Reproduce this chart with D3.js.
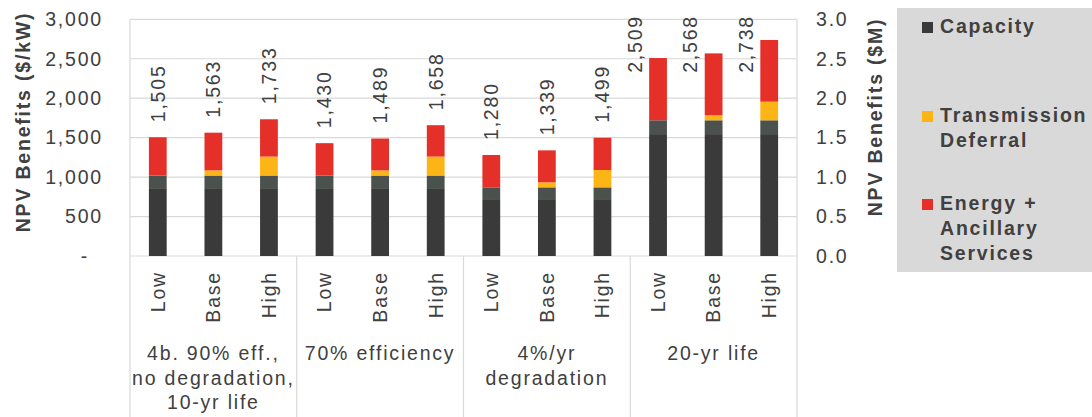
<!DOCTYPE html>
<html>
<head>
<meta charset="utf-8">
<script src="https://cdn.jsdelivr.net/npm/d3@7"></script>
<style>
  html, body { margin: 0; padding: 0; background: #ffffff; }
  svg { display: block; font-family: "Liberation Sans", Arial, sans-serif; }
  text { fill: #404040; letter-spacing: 1.8px; }
</style>
</head>
<body>
<svg id="chart" width="1092" height="417"></svg>
<script>
// ---- data ----
const groups = [
  ["4b. 90% eff.,", "no degradation,", "10-yr life"],
  ["70% efficiency"],
  ["4%/yr", "degradation"],
  ["20-yr life"]
];
const cases = ["Low", "Base", "High"];
const capacity      = [860, 860, 860, 860, 860, 860, 710, 710, 710, 1545, 1545, 1545];
const capacityShade = [160, 160, 160, 160, 160, 160, 160, 160, 160, 175, 175, 175];
const transmission  = [0, 65, 240, 0, 65, 240, 0, 64, 220, 0, 63, 236];
const energy        = [485, 478, 473, 410, 404, 398, 410, 405, 409, 789, 785, 782];
const totals        = [1505, 1563, 1733, 1430, 1489, 1658, 1280, 1339, 1499, 2509, 2568, 2738];
const leftTicks  = [0, 500, 1000, 1500, 2000, 2500, 3000];
const rightTicks = [0, 0.5, 1.0, 1.5, 2.0, 2.5, 3.0];
const legendItems = [
  { name: ["Capacity"], key: "capacity" },
  { name: ["Transmission", "Deferral"], key: "transmission" },
  { name: ["Energy +", "Ancillary", "Services"], key: "energy" }
];

// ---- layout ----
const FS = 19.5;
const colors = { capacity: "#3a3a3a", capacityShade: "#4b524e", transmission: "#fdb515", energy: "#e5302a" };
const plot = { left: 130, right: 797, top: 19.3, bottom: 256 };
const svg = d3.select("#chart");
svg.append("rect").attr("width", 1092).attr("height", 417).attr("fill", "#fff");

const barIds = d3.range(totals.length);
const x = d3.scaleBand().domain(barIds).range([plot.left, plot.right]).paddingInner(0.68).paddingOuter(0.34);
const y = d3.scaleLinear().domain([0, 3000]).range([plot.bottom, plot.top]);
const yR = d3.scaleLinear().domain([0, 3]).range([plot.bottom, plot.top]);

// gridlines
svg.append("g").selectAll("line").data(leftTicks).join("line")
  .attr("x1", plot.left).attr("x2", plot.right)
  .attr("y1", d => y(d)).attr("y2", d => y(d))
  .attr("stroke", "#d9d9d9").attr("stroke-width", 1.2);

// vertical plot borders + group dividers
const groupEdges = d3.range(groups.length + 1).map(i => plot.left + i * (plot.right - plot.left) / groups.length);
svg.append("g").selectAll("line").data(groupEdges).join("line")
  .attr("x1", d => d).attr("x2", d => d)
  .attr("y1", (d, i) => (i === 0 || i === groups.length) ? plot.top : plot.bottom)
  .attr("y2", 417)
  .attr("stroke", "#d9d9d9").attr("stroke-width", 1.2);

// stacked bars
const stackKeys = ["capacity", "capacityShade", "transmission", "energy"];
const rows = barIds.map(i => ({ id: i, capacity: capacity[i], capacityShade: capacityShade[i], transmission: transmission[i], energy: energy[i] }));
const series = d3.stack().keys(stackKeys)(rows);
svg.append("g").selectAll("g").data(series).join("g")
  .attr("fill", s => colors[s.key])
  .selectAll("rect").data(s => s).join("rect")
  .attr("x", d => x(d.data.id))
  .attr("width", x.bandwidth())
  .attr("y", d => y(d[1]))
  .attr("height", d => y(d[0]) - y(d[1]));

// data labels
const fmt = d3.format(",");
const lbl = svg.append("g").selectAll("text").data(barIds).join("text")
  .attr("font-size", FS)
  .attr("text-anchor", "start")
  .attr("dy", "0.35em")
  .text(i => fmt(totals[i]));
lbl.each(function(i) {
  const len = this.getComputedTextLength();
  const cx = x(i) + x.bandwidth() / 2;
  let sy = y(totals[i]) - 15;
  let sx = cx;
  if (sy - len < 13) { sy = 15 + len; sx = cx - 23; }
  d3.select(this).attr("transform", `translate(${sx},${sy}) rotate(-90)`);
});

// left axis
const gL = svg.append("g").attr("transform", `translate(${plot.left},0)`)
  .call(d3.axisLeft(y).tickValues(leftTicks).tickSize(0).tickPadding(27)
    .tickFormat(d => d === 0 ? "-" : fmt(d)));
gL.select(".domain").remove();
gL.selectAll("text").attr("font-size", FS).attr("fill", "#404040")
  .attr("font-family", '"Liberation Sans", Arial, sans-serif')
  .attr("dx", d => d === 0 ? -14 : 0);

// right axis
const gR = svg.append("g").attr("transform", `translate(${plot.right},0)`)
  .call(d3.axisRight(yR).tickValues(rightTicks).tickSize(0).tickPadding(19).tickFormat(d3.format(".1f")));
gR.select(".domain").remove();
gR.selectAll("text").attr("font-size", FS).attr("fill", "#404040")
  .attr("font-family", '"Liberation Sans", Arial, sans-serif');

// axis titles
svg.append("text").attr("transform", "translate(23,122) rotate(-90)")
  .attr("text-anchor", "middle").attr("dy", "0.35em")
  .attr("font-size", FS).attr("font-weight", "bold")
  .text("NPV Benefits ($/kW)");
svg.append("text").attr("transform", "translate(875,117) rotate(-90)")
  .attr("text-anchor", "middle").attr("dy", "0.35em")
  .attr("font-size", FS).attr("font-weight", "bold")
  .text("NPV Benefits ($M)");

// category labels
svg.append("g").selectAll("text").data(barIds).join("text")
  .attr("transform", i => `translate(${x(i) + x.bandwidth() / 2},271) rotate(-90)`)
  .attr("text-anchor", "end").attr("dy", "0.35em")
  .attr("font-size", FS)
  .text(i => cases[i % cases.length]);

// group labels
const gw = (plot.right - plot.left) / groups.length;
groups.forEach((lines, gi) => {
  const t = svg.append("text").attr("text-anchor", "middle").attr("font-size", FS);
  lines.forEach((ln, li) => {
    t.append("tspan").attr("x", plot.left + gw * (gi + 0.5)).attr("y", 360 + li * 24.5).text(ln);
  });
});

// legend
svg.append("rect").attr("x", 897).attr("y", 8).attr("width", 195).attr("height", 264).attr("fill", "#d9d9d9");
const legendBase = [33, 122, 210];
legendItems.forEach((it, k) => {
  const b = legendBase[k];
  svg.append("rect").attr("x", 922).attr("y", b - 11).attr("width", 11).attr("height", 11).attr("fill", colors[it.key]);
  const t = svg.append("text").attr("font-size", FS).attr("font-weight", "bold").attr("fill", "#404040");
  it.name.forEach((ln, li) => {
    t.append("tspan").attr("x", 940).attr("y", b + li * 25).text(ln);
  });
});
</script>
</body>
</html>
